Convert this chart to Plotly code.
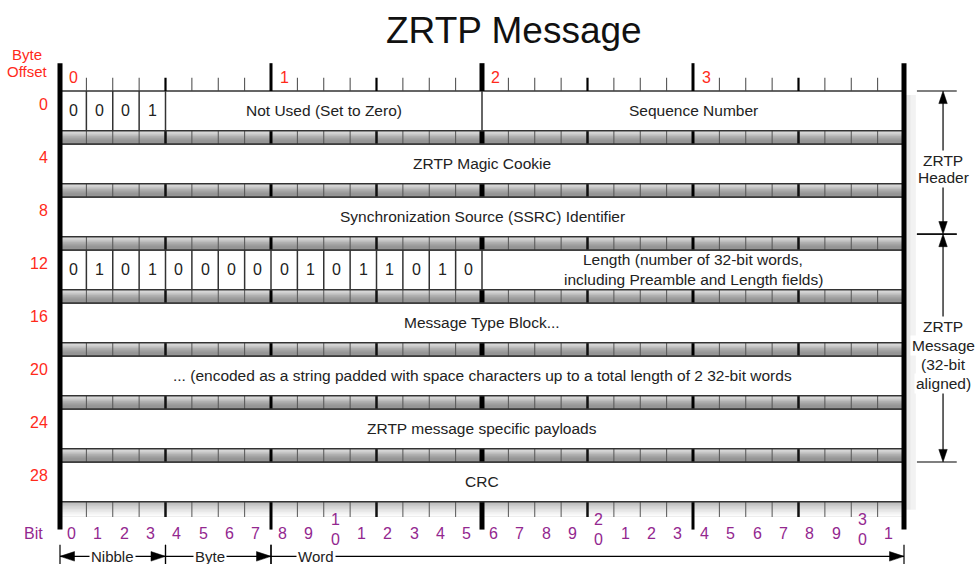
import plotly.graph_objects as go

# ---------------- data ----------------
title_text = "ZRTP Message"
byte_offsets = [0, 4, 8, 12, 16, 20, 24, 28]
byte_ruler_labels = ["0", "1", "2", "3"]

field_offsets = [0, 0, 4, 8, 12, 16, 20, 24, 28]
field_starts = [4, 16, 0, 0, 16, 0, 0, 0, 0]
field_ends = [16, 32, 32, 32, 32, 32, 32, 32, 32]
field_labels = [
    "Not Used (Set to Zero)",
    "Sequence Number",
    "ZRTP Magic Cookie",
    "Synchronization Source (SSRC) Identifier",
    "Length (number of 32-bit words,<br>including Preamble and Length fields)",
    "Message Type Block...",
    "... (encoded as a string padded with space characters up to a total length of 2 32-bit words",
    "ZRTP message specific payloads",
    "CRC",
]

row0_bits = [0, 0, 0, 1]
row12_bits = [0, 1, 0, 1, 0, 0, 0, 0, 0, 1, 0, 1, 1, 0, 1, 0]

bit_labels = ["0", "1", "2", "3", "4", "5", "6", "7", "8", "9",
              "1<br>0", "1", "2", "3", "4", "5", "6", "7", "8", "9",
              "2<br>0", "1", "2", "3", "4", "5", "6", "7", "8", "9",
              "3<br>0", "1"]

section_labels = ["ZRTP<br>Header", "ZRTP<br>Message<br>(32-bit<br>aligned)"]
section_from = [0, 10.8]
section_to = [10.8, 28]

scope_labels = ["Nibble", "Byte", "Word"]
scope_from = [0, 4, 8]
scope_to = [4, 8, 32]

# ---------------- styling / geometry ----------------
RED = "#ff2a1a"
PURPLE = "#93278f"
FONT = "Liberation Sans, Arial, sans-serif"
ROW_H = 3.0
NBITS = 32
PX_BIT = 26.375       # pixels per bit
PX_BYTE = 13.25       # pixels per byte-offset unit
W, H = 977, 564
OX, OY = 60, 91       # origin inside figure (pixels)

shapes = []
ann = []


def line(x0, y0, x1, y1, w=1, c="#000"):
    shapes.append(dict(type="line", x0=x0, y0=y0, x1=x1, y1=y1,
                       line=dict(width=w, color=c), layer="above"))


def rect(x0, y0, x1, y1, fill, lw=0, lc="#000"):
    shapes.append(dict(type="rect", x0=x0, y0=y0, x1=x1, y1=y1,
                       fillcolor=fill, line=dict(width=lw, color=lc), layer="above"))


def tri(pts):
    d = "M " + " L ".join(f"{x},{y}" for x, y in pts) + " Z"
    shapes.append(dict(type="path", path=d, fillcolor="#000",
                       line=dict(width=0.5, color="#000"), layer="above"))


def text(x, y, s, size=16, color="#222", xanchor="center", bg=None, spacing=None):
    parts = s.split("<br>") if spacing else [s]
    n = len(parts)
    for i, p in enumerate(parts):
        yy = y + ((i - (n - 1) / 2) * spacing / PX_BYTE if spacing else 0)
        a = dict(x=x, y=yy, xref="x", yref="y", text=p, showarrow=False,
                 font=dict(family=FONT, size=size, color=color),
                 xanchor=xanchor, yanchor="middle", align="center")
        if bg:
            a["bgcolor"] = bg
            a["borderpad"] = 1
        ann.append(a)


# shadow on the right
rect(32.05, 0.3, 32.45, 31.6, "rgba(0,0,0,0.05)")
rect(32.05, 0.3, 32.25, 31.6, "rgba(0,0,0,0.04)")

# white rows
for off in byte_offsets:
    rect(0, off, NBITS, off + ROW_H, "white", 1.5, "#333")

# gray strips (gradient drawn as overlapping bands -> no seams)
band_cols = ["#e2e2e2", "#d6d6d6", "#cacaca", "#bdbdbd", "#b1b1b1",
             "#a6a6a6", "#9d9d9d", "#979797", "#959595", "#999999"]
bottom_cols = ["#bababa", "#c2c2c2", "#cacaca", "#d2d2d2", "#dadada",
               "#e2e2e2", "#e9e9e9", "#f0f0f0", "#f6f6f6", "#fbfbfb"]
for off in byte_offsets:
    st = off + ROW_H
    bottom = st >= 31
    h = 1.1 if bottom else 1.0
    cols = bottom_cols if bottom else band_cols
    n = len(cols)
    for i, col in enumerate(cols):
        shapes.append(dict(type="rect", x0=0, x1=NBITS, y0=st + h * i / n, y1=st + h,
                           fillcolor=col, line=dict(width=0), layer="above"))
    for b in range(1, NBITS):
        if b % 16 == 0:
            w, c = 5, "#000"
        elif b % 8 == 0:
            w, c = 3, "#000"
        elif b % 4 == 0:
            w, c = 2.5, "#111"
        else:
            w, c = 1, "#555"
        y1 = st + h
        if bottom:
            y1 = st + 1.15 if b % 8 else st + 2.1
        line(b, st, b, y1, w, c)
    line(0, st, NBITS, st, 1.5, "#333")
    if not bottom:
        line(0, st + h, NBITS, st + h, 1.5, "#333")

# top ruler ticks
for b in range(1, NBITS):
    if b % 16 == 0:
        line(b, -2.1, b, 0, 5)
    elif b % 8 == 0:
        line(b, -2.1, b, 0, 3)
    elif b % 4 == 0:
        line(b, -1.0, b, 0, 2.2)
    else:
        line(b, -1.0, b, 0, 1, "#444")
for i, s in enumerate(byte_ruler_labels):
    text(i * 8 + 0.28, -1.05, s, size=16, color=RED, xanchor="left")

# field dividers and labels
for off, s, e, lab in zip(field_offsets, field_starts, field_ends, field_labels):
    if s > 0:
        line(s, off, s, off + ROW_H, 1.5, "#333")
    text((s + e) / 2, off + 1.5, lab, size=15.5, spacing=20)

for i, v in enumerate(row0_bits):
    if i > 0:
        line(i, 0, i, ROW_H, 1.5, "#333")
    text(i + 0.5, 1.5, str(v), size=16)
for i, v in enumerate(row12_bits):
    if i > 0:
        line(i, 12, i, 12 + ROW_H, 1.5, "#333")
    text(i + 0.5, 13.5, str(v), size=16)

# main thick side bars
line(0, -2.1, 0, 33.1, 5)
line(NBITS, -2.1, NBITS, 33.1, 5)

# byte offset labels
text(-1.25, -2.08, "Byte<br>Offset", size=15, color=RED, spacing=17)
for off in byte_offsets:
    text(-0.38, off + 1.05, str(off), size=16, color=RED, xanchor="right")

# bit labels
text(-1.0, 33.36, "Bit", size=16, color=PURPLE)
for b, s in enumerate(bit_labels):
    if "<br>" in s:
        text(b + 0.43, 33.13, s, size=16, color=PURPLE, spacing=20)
    else:
        text(b + 0.43, 33.36, s, size=16, color=PURPLE)

# right section arrows
ax_x = 33.48
for lab, y0, y1 in zip(section_labels, section_from, section_to):
    line(32.49, y0, 34.0, y0, 1.2)
    line(32.49, y1, 34.0, y1, 1.2)
    line(ax_x, y0 + 0.5, ax_x, y1 - 0.5, 1.2)
    tri([(ax_x, y0), (ax_x - 0.16, y0 + 0.95), (ax_x + 0.16, y0 + 0.95)])
    tri([(ax_x, y1), (ax_x - 0.16, y1 - 0.95), (ax_x + 0.16, y1 - 0.95)])
    if y0 == 0:
        text(ax_x, (y0 + y1) / 2 + 0.45, lab, size=15.5, bg="white", spacing=17)
    else:
        text(ax_x, (y0 + y1) / 2 + 0.5, lab, size=15.5, bg="white", spacing=19)

# bottom scope arrows
yb = 35.12
for lab, x0, x1 in zip(scope_labels, scope_from, scope_to):
    line(x0, 34.25, x0, 36.0, 1.2)
    line(x1, 34.25, x1, 36.0, 1.2)
    line(x0, yb, x1, yb, 1.2)
    if x0 == 0:
        tri([(x0, yb), (x0 + 0.55, yb - 0.36), (x0 + 0.55, yb + 0.36)])
    tri([(x1, yb), (x1 - 0.55, yb - 0.36), (x1 - 0.55, yb + 0.36)])
    cx = (x0 + x1) / 2 if x0 == 0 else x0 + 1.7
    text(cx, yb, lab, size=15, bg="white")

# title
text(17.2, -4.6, title_text, size=37, color="#111")

fig = go.Figure()
fig.update_layout(
    width=W, height=H, autosize=False,
    margin=dict(l=0, r=0, t=0, b=0),
    paper_bgcolor="white", plot_bgcolor="white",
    xaxis=dict(range=[-OX / PX_BIT, (W - OX) / PX_BIT], visible=False, fixedrange=True),
    yaxis=dict(range=[(H - OY) / PX_BYTE, -OY / PX_BYTE], visible=False, fixedrange=True),
    shapes=shapes, annotations=ann, showlegend=False,
)
fig.write_html(
    "out.html",
    config={"displayModeBar": False, "staticPlot": True},
    post_script="document.body.style.margin='0';"
                "document.documentElement.style.overflow='hidden';",
)
